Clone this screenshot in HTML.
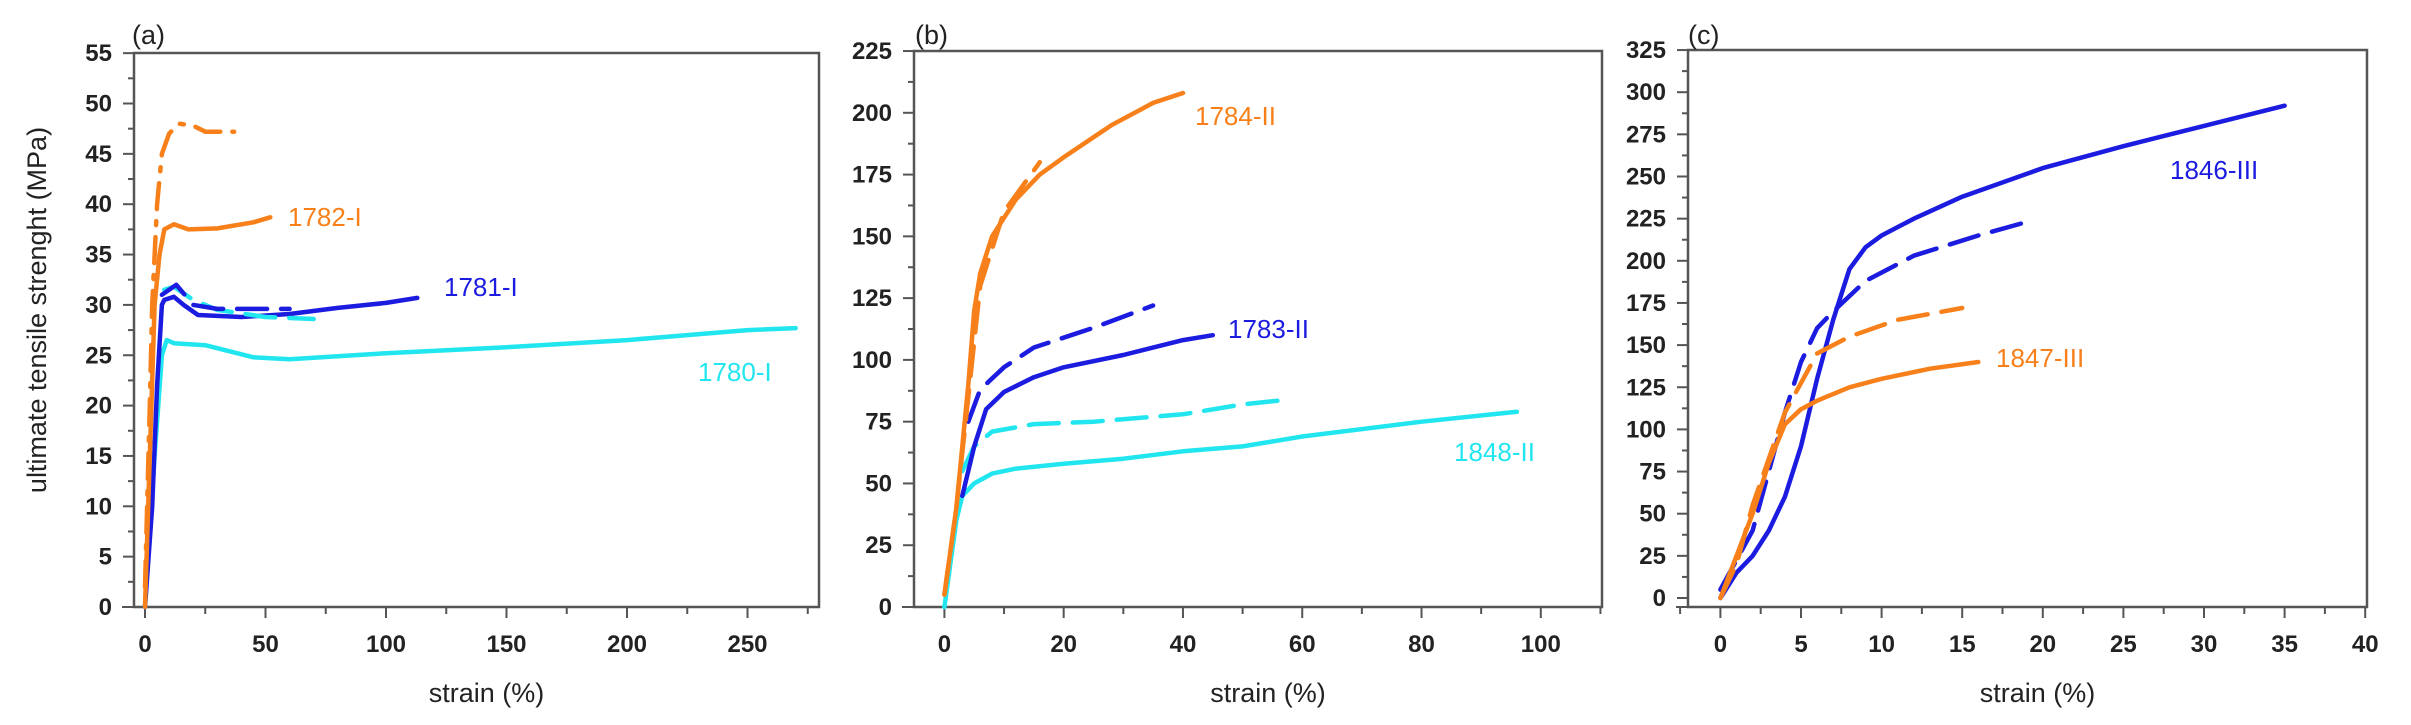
<!DOCTYPE html>
<html><head><meta charset="utf-8"><style>
body{margin:0;background:#fff;}
svg{display:block;font-family:"Liberation Sans",Arial,sans-serif;}
.t{font-size:24px;font-weight:bold;fill:#222;}
.ti{font-size:27px;fill:#222;}
.lb{font-size:26px;}
</style></head><body>
<svg id="s" width="2411" height="725" viewBox="0 0 2411 725" xmlns="http://www.w3.org/2000/svg">
<rect width="2411" height="725" fill="#fff"/>
</svg>
<script>
const S=document.getElementById('s');const NS='http://www.w3.org/2000/svg';
function el(t,a,txt){const e=document.createElementNS(NS,t);for(const k in a)e.setAttribute(k,a[k]);if(txt!==undefined)e.textContent=txt;S.appendChild(e);return e;}
const O='#f7801a',B='#1c1ce0',C='#22e6ef';
function panel(p){
 const X=v=>p.x0+v*p.sx, Y=v=>p.y0-v*p.sy;
 el('rect',{x:p.L,y:p.T,width:p.R-p.L,height:p.Bt-p.T,fill:'none',stroke:'#555','stroke-width':2.5});
 for(let v=0;v<=p.ymax+1e-9;v+=p.ymin){const y=Y(v);const maj=Math.abs(v/p.ymaj-Math.round(v/p.ymaj))<1e-6;
  el('line',{x1:p.L-(maj?11:6),x2:p.L,y1:y,y2:y,stroke:'#555','stroke-width':2});
  if(maj)el('text',{x:p.L-22,y:y+8,'text-anchor':'end',class:'t'},String(v));}
 for(let v=p.xstart;v<=p.xmax+1e-9;v+=p.xmin){const x=X(v);const maj=Math.abs(v/p.xmaj-Math.round(v/p.xmaj))<1e-6;
  el('line',{x1:x,x2:x,y1:p.Bt,y2:p.Bt+(maj?11:7),stroke:'#555','stroke-width':2});
  if(maj&&v>=0)el('text',{x:x,y:652,'text-anchor':'middle',class:'t'},String(v));}
 el('line',{x1:p.L-12,x2:p.L,y1:p.Bt,y2:p.Bt,stroke:'#555','stroke-width':2});
 el('text',{x:p.lx,y:44,class:'ti','font-size':26},p.name);
 el('text',{x:(p.L+p.R)/2+10,y:702,'text-anchor':'middle',class:'ti'},'strain (%)');
 for(const s of p.series){
  const d=s.pts.map((q,i)=>(i?'L':'M')+X(q[0]).toFixed(1)+' '+Y(q[1]).toFixed(1)).join(' ');
  const a={d:d,fill:'none',stroke:s.c,'stroke-width':4.5,'stroke-linejoin':'round','stroke-linecap':'round'};
  if(s.dash)a['stroke-dasharray']=s.dash;
  el('path',a);
 }
 for(const l of p.labels)el('text',{x:l[0],y:l[1]+9,class:'lb',fill:l[3]},l[2]);
}
const D='30 14';
panel({L:134,R:819,T:53,Bt:607,x0:145,sx:2.41,y0:607,sy:10.07,ymax:55,ymaj:5,ymin:2.5,xstart:0,xmax:275,xmaj:50,xmin:25,name:'(a)',lx:132,
series:[
{c:C,pts:[[0,0],[4,15],[7,25],[9,26.5],[12,26.2],[25,26],[45,24.8],[60,24.6],[100,25.2],[150,25.8],[200,26.5],[225,27],[250,27.5],[270,27.7]]},
{c:B,pts:[[0,0],[3,10],[5,22],[7,30],[8,30.5],[12,30.8],[16,30],[22,29],[40,28.8],[60,29.1],[80,29.7],[100,30.2],[113,30.7]]},
{c:C,dash:D,pts:[[8,31.5],[12,31.8],[20,30.5],[30,29.5],[50,28.8],[70,28.6]]},
{c:B,dash:D,pts:[[7,31],[13,32],[20,30],[30,29.6],[60,29.6]]},
{c:O,pts:[[0,0],[2,15],[4,30],[6,35],[8,37.5],[12,38],[18,37.5],[30,37.6],[45,38.2],[52,38.7]]},
{c:O,dash:'26 12 4 12',pts:[[0,2],[2,20],[3,30],[5,40],[7,45],[10,47],[14,48],[20,47.8],[25,47.2],[37,47.2]]}
],
labels:[[288,217,'1782-I',O],[444,287,'1781-I',B],[698,372,'1780-I',C]]});
panel({L:914,R:1602,T:51,Bt:607,x0:944.4,sx:5.964,y0:607,sy:2.471,ymax:225,ymaj:25,ymin:12.5,xstart:0,xmax:110,xmaj:20,xmin:10,name:'(b)',lx:915,
series:[
{c:C,pts:[[0,0],[2,35],[3,45],[5,50],[8,54],[12,56],[20,58],[30,60],[40,63],[50,65],[60,69],[80,75],[96,79]]},
{c:C,dash:D,pts:[[3,55],[5,65],[8,71],[15,74],[25,75],[40,78],[50,82],[58,84]]},
{c:B,pts:[[3,45],[5,65],[7,80],[10,87],[15,93],[20,97],[30,102],[40,108],[45,110]]},
{c:B,dash:D,pts:[[4,75],[6,88],[10,97],[15,105],[25,113],[35,122]]},
{c:O,pts:[[0,5],[2,40],[4,90],[5,120],[6,135],[8,150],[12,165],[16,175],[20,182],[28,195],[35,204],[40,208]]},
{c:O,dash:D,pts:[[0,5],[2,40],[4,85],[6,130],[10,160],[16,180]]}
],
labels:[[1195,116,'1784-II',O],[1228,329,'1783-II',B],[1454,452,'1848-II',C]]});
panel({L:1688,R:2367,T:50,Bt:607,x0:1720.4,sx:16.12,y0:598,sy:1.686,ymax:325,ymaj:25,ymin:12.5,xstart:-2.5,xmax:40,xmaj:5,xmin:2.5,name:'(c)',lx:1688,
series:[
{c:B,pts:[[0,0],[1,15],[2,25],[3,40],[4,60],[5,90],[6,130],[7,165],[8,195],[9,208],[10,215],[12,225],[15,238],[20,255],[25,268],[30,280],[35,292]]},
{c:B,dash:D,pts:[[0,5],[2,40],[4,110],[5,140],[6,160],[7,170],[9,188],[12,203],[16,215],[19,223]]},
{c:O,pts:[[0,0],[1,25],[2,50],[3,80],[4,103],[5,112],[6,117],[8,125],[10,130],[13,136],[16,140]]},
{c:O,dash:D,pts:[[0,0],[1,20],[2,55],[4,110],[6,145],[8,155],[11,165],[15,172]]}
],
labels:[[2170,170,'1846-III',B],[1996,358,'1847-III',O]]});
el('text',{x:0,y:0,class:'ti','text-anchor':'middle',transform:'translate(46,310) rotate(-90)'},'ultimate tensile strenght (MPa)');
</script>
</body></html>
